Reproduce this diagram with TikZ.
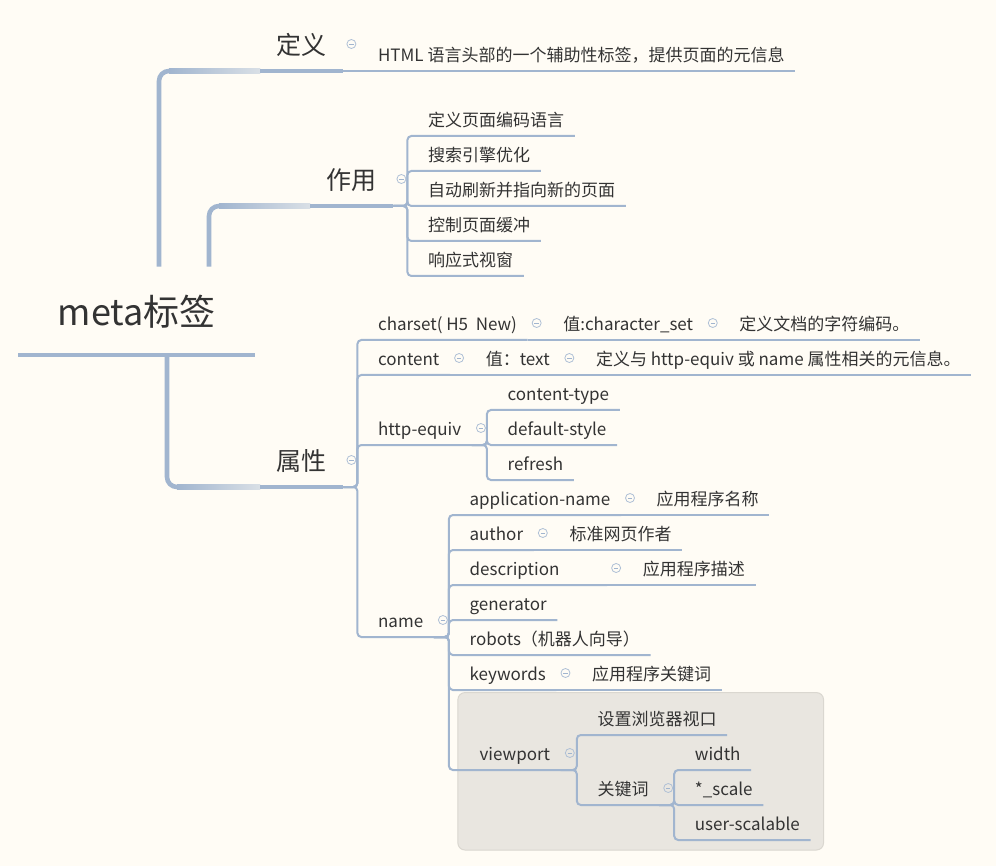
\documentclass[tikz,border=0pt]{standalone}
\usepackage{fontspec}
\setmainfont{Noto Sans CJK SC}
\usetikzlibrary{positioning,calc}
\pgfdeclarelayer{bg}
\pgfsetlayers{bg,main}
\definecolor{paper}{HTML}{FFFCF5}
\definecolor{branch}{HTML}{A1B5CF}
\definecolor{ink}{HTML}{333333}
\definecolor{boxfill}{HTML}{E9E6E0}
\definecolor{boxline}{HTML}{DAD7D0}
\tikzstyle{root}=[inner sep=0pt, minimum width=237pt, text height=59pt, text depth=29pt, text=ink, font=\fontsize{36}{40}\selectfont, anchor=south west]
\tikzstyle{main}=[inner xsep=16.5pt, inner ysep=0pt, text height=19pt, text depth=16pt, text=ink, font=\fontsize{25}{29}\selectfont, anchor=south west]
\tikzstyle{sub}=[inner xsep=10.5pt, inner ysep=0pt, text height=13.5pt, text depth=9.5pt, text=ink, font=\fontsize{17}{20}\selectfont, anchor=south west]
\tikzstyle{fold}=[circle, draw=branch!85, line width=0.8pt, minimum size=9pt, inner sep=0pt, path picture={\draw[branch, line width=0.8pt] ([xshift=-2.2pt]path picture bounding box.center) -- ([xshift=2.2pt]path picture bounding box.center);}]
\tikzstyle{trunk}=[draw=branch, line width=4.6pt, rounded corners=10pt]
\tikzstyle{mainline}=[draw=branch, line width=3.5pt]
\tikzstyle{twig}=[draw=branch, line width=2pt, rounded corners=4pt]
\tikzstyle{boundary}=[fill=boxfill, draw=boxline, line width=1pt, rounded corners=7pt]

\begin{document}
\begin{tikzpicture}[x=1pt, y=-1pt]
	\useasboundingbox (0,0) rectangle (996,866);
	\node[root] (root) at (18,355) {meta标签};
	\node[main] (def) at (260,71) {定义};
	\node[main] (use) at (310,206) {作用};
	\node[main] (attr) at (260,487) {属性};
	% 定义
	\node[sub, right=24pt of def.south east, anchor=south west] (defText) {HTML 语言头部的一个辅助性标签，提供页面的元信息};
	% 作用
	\node[sub] (use1) at ($(use.south east)+(24,-70)$) {定义页面编码语言};
	\node[sub] (use2) at ($(use.south east)+(24,-35)$) {搜索引擎优化};
	\node[sub] (use3) at ($(use.south east)+(24,0)$) {自动刷新并指向新的页面};
	\node[sub] (use4) at ($(use.south east)+(24,35)$) {控制页面缓冲};
	\node[sub] (use5) at ($(use.south east)+(24,70)$) {响应式视窗};
	% 属性
	\node[sub] (charset) at ($(attr.south east)+(24,-147)$) {charset( H5\ \ New)};
	\node[sub, right=25pt of charset.south east, anchor=south west] (charsetVal) {值:character\_set};
	\node[sub, right=25pt of charsetVal.south east, anchor=south west] (charsetDesc) {定义文档的字符编码。};
	\node[sub] (content) at ($(attr.south east)+(24,-112)$) {content};
	\node[sub, right=25pt of content.south east, anchor=south west] (contentVal) {值：text};
	\node[sub, right=25pt of contentVal.south east, anchor=south west] (contentDesc) {定义与 http-equiv 或 name 属性相关的元信息。};
	\node[sub] (httpEquiv) at ($(attr.south east)+(24,-42)$) {http-equiv};
	\node[sub] (ctype) at ($(httpEquiv.south east)+(25,-35)$) {content-type};
	\node[sub] (dstyle) at ($(httpEquiv.south east)+(25,0)$) {default-style};
	\node[sub] (refresh) at ($(httpEquiv.south east)+(25,35)$) {refresh};
	\node[sub] (name) at ($(attr.south east)+(24,150)$) {name};
	\node[sub] (appName) at ($(name.south east)+(25,-122)$) {application-name};
	\node[sub, right=25pt of appName.south east, anchor=south west] (appNameVal) {应用程序名称};
	\node[sub] (author) at ($(name.south east)+(25,-87)$) {author};
	\node[sub, right=25pt of author.south east, anchor=south west] (authorVal) {标准网页作者};
	\node[sub] (descr) at ($(name.south east)+(25,-52)$) {description\hspace*{37pt}};
	\node[sub, right=25pt of descr.south east, anchor=south west] (descrVal) {应用程序描述};
	\node[sub] (generator) at ($(name.south east)+(25,-17)$) {generator};
	\node[sub] (robots) at ($(name.south east)+(25,18)$) {robots（机器人向导）};
	\node[sub] (keywords) at ($(name.south east)+(25,53)$) {keywords};
	\node[sub, right=25pt of keywords.south east, anchor=south west] (keywordsVal) {应用程序关键词};
	\node[sub] (viewport) at ($(name.south east)+(35,133)$) {viewport};
	\node[sub] (vpSet) at ($(viewport.south east)+(26,-35)$) {设置浏览器视口};
	\node[sub] (vpKey) at ($(viewport.south east)+(26,35)$) {关键词};
	\node[sub] (vpWidth) at ($(vpKey.south east)+(25,-35)$) {width};
	\node[sub] (vpScale) at ($(vpKey.south east)+(25,0)$) {*\_scale};
	\node[sub] (vpUser) at ($(vpKey.south east)+(25,35)$) {user-scalable};

	\begin{pgfonlayer}{bg}
		\fill[paper] (0,0) rectangle (996,866);
		\draw[boundary] ($(viewport.south west |- vpSet.north)+(-11,-19)$) rectangle ($(vpUser.south east)+(13,10)$);
	\end{pgfonlayer}

	% main branches
	\coordinate (up1) at ([xshift=141pt]root.north west);
	\coordinate (up2) at ([xshift=191pt]root.north west);
	\coordinate (down1) at ([xshift=149pt]root.south west);
	\draw[trunk] (up1) |- (def.south west);
	\draw[trunk] (up2) |- (use.south west);
	\draw[trunk] (down1) |- (attr.south west);
	\shade[left color=branch, right color=branch!40!paper] ($(up1 |- def.south)+(10,-2.4)$) rectangle ($(def.south west)+(0,2.4)$);
	\shade[left color=branch, right color=branch!40!paper] ($(up2 |- use.south)+(10,-2.4)$) rectangle ($(use.south west)+(0,2.4)$);
	\shade[left color=branch, right color=branch!40!paper] ($(down1 |- attr.south)+(10,-2.4)$) rectangle ($(attr.south west)+(0,2.4)$);
	\draw[branch, line width=4.5pt] (root.south west) -- (root.south east);
	\foreach \t in {def, use, attr}
		\draw[mainline] (\t.south west) -- (\t.south east);

	% sub branches
	\draw[twig] (def.south east) -- (defText.south east);
	\foreach \c in {use1, use2, use3, use4, use5}
		\draw[twig] (use.south east) -- ++(14,0) |- (\c.south east);
	\foreach \c in {charset, content, httpEquiv, name}
		\draw[twig] (attr.south east) -- ++(14,0) |- (\c.south east);
	\draw[twig] (charset.south east) -- (charsetVal.south east) -- (charsetDesc.south east);
	\draw[twig] (content.south east) -- (contentVal.south east) -- (contentDesc.south east);
	\foreach \c in {ctype, dstyle, refresh}
		\draw[twig] (httpEquiv.south east) -- ++(15,0) |- (\c.south east);
	\foreach \c in {appName, author, descr, generator, robots, keywords, viewport}
		\draw[twig] (name.south east) -- ++(15,0) |- (\c.south east);
	\draw[twig] (appName.south east) -- (appNameVal.south east);
	\draw[twig] (author.south east) -- (authorVal.south east);
	\draw[twig] (descr.south east) -- (descrVal.south east);
	\draw[twig] (keywords.south east) -- (keywordsVal.south east);
	\foreach \c in {vpSet, vpKey}
		\draw[twig] (viewport.south east) -- ++(16,0) |- (\c.south east);
	\foreach \c in {vpWidth, vpScale, vpUser}
		\draw[twig] (vpKey.south east) -- ++(15,0) |- (\c.south east);

	% fold marks
	\foreach \t in {def, use, attr}
		\node[fold] (\t-fold) at ($(\t.south east)+(8,-27)$) {};
	\foreach \t in {charset, charsetVal, content, contentVal, httpEquiv, name, appName, author, descr, keywords, viewport, vpKey}
		\node[fold] (\t-fold) at ($(\t.south east)+(9,-17)$) {};
\end{tikzpicture}
\end{document}
